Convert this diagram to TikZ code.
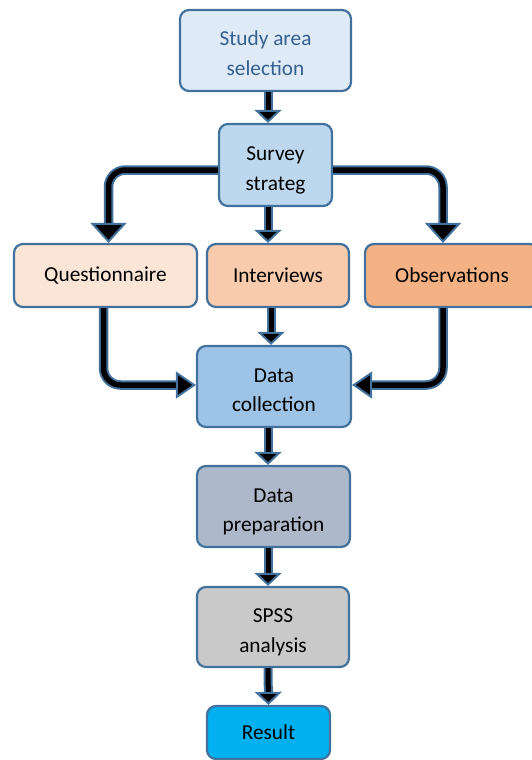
\documentclass[tikz,border=0pt]{standalone}
\usepackage{fontspec}
\setmainfont{Carlito}
\usepackage{xcolor}
\usepackage{tikz}
\usetikzlibrary{arrows.meta}

\definecolor{bord}{HTML}{41719C}
\definecolor{studyfill}{HTML}{DEEBF7}
\definecolor{studytext}{HTML}{35608F}
\definecolor{surveyfill}{HTML}{BDD7EE}
\definecolor{questfill}{HTML}{FBE5D6}
\definecolor{intfill}{HTML}{F8CBAD}
\definecolor{obsfill}{HTML}{F4B183}
\definecolor{collfill}{HTML}{9DC3E6}
\definecolor{prepfill}{HTML}{ADB9CA}
\definecolor{spssfill}{HTML}{C9C9C9}
\definecolor{resfill}{HTML}{00B0F0}

\tikzset{
	box/.style={draw=bord, line width=2.2pt, rounded corners=9pt, align=center,
		inner sep=0pt, font=\fontsize{21.3}{29.5}\selectfont},
	twoline/.style={text height=50pt, text depth=0pt},
	smallarr/.style={black, line width=5pt,
		-{Triangle[width=27pt,length=13pt,line width=2pt,color=bord,fill=black]},
		preaction={draw=bord, line width=9pt, shorten >=10pt, arrows=-}},
	bigarr/.style={black, line width=5.5pt,
		-{Triangle[width=#1,length=20pt,line width=2pt,color=bord,fill=black]},
		preaction={draw=bord, line width=9.5pt, shorten >=15pt, arrows=-}}
}

\begin{document}
\begin{tikzpicture}[x=1pt,y=-1pt]
	\useasboundingbox (0,0) rectangle (532,760);
	\node[box, twoline, fill=studyfill, text=studytext, minimum width=171pt, minimum height=81pt] at (265.5,50.5) (study) {Study area\\selection};
	\node[box, twoline, fill=surveyfill, minimum width=113pt, minimum height=82pt] at (275.5,165) (survey) {Survey\\strateg};
	\node[box, fill=questfill, minimum width=183pt, minimum height=63pt] at (105.5,275.5) (quest) {Questionnaire};
	\node[box, fill=intfill, minimum width=142pt, minimum height=63pt] at (278,275.5) (interv) {Interviews};
	\node[box, fill=obsfill, minimum width=174pt, minimum height=63pt] at (452,275.5) (obs) {Observations};
	\node[box, twoline, fill=collfill, minimum width=154pt, minimum height=81pt] at (274,386.5) (coll) {Data\\collection};
	\node[box, twoline, fill=prepfill, minimum width=153pt, minimum height=81pt] at (273.5,506.5) (prep) {Data\\preparation};
	\node[box, twoline, fill=spssfill, minimum width=152pt, minimum height=80pt] at (273,627) (spss) {SPSS\\analysis};
	\node[box, fill=resfill, minimum width=123pt, minimum height=53pt] at (268.5,732.5) (result) {Result};
	% straight arrows
	\draw [smallarr] ([xshift=2.5pt]study.south) -- ([xshift=-7.5pt]survey.north);
	\draw [smallarr] ([xshift=-7.5pt]survey.south) -- ([xshift=-10pt]interv.north);
	\draw [smallarr] ([xshift=-7pt]interv.south) -- ([xshift=-3pt]coll.north);
	\draw [smallarr] ([xshift=-6pt]coll.south) -- ([xshift=-5.5pt]prep.north);
	\draw [smallarr] ([xshift=-5.5pt]prep.south) -- ([xshift=-5pt]spss.north);
	\draw [smallarr] ([xshift=-5pt]spss.south) -- (result.north);
	% branches
	\draw [bigarr=36pt] ([yshift=-5pt]survey.west) [rounded corners=17pt] -| ([xshift=3pt]quest.north) [sharp corners];
	\draw [bigarr=36pt] ([yshift=-5pt]survey.east) [rounded corners=17pt] -| ([xshift=-9pt]obs.north) [sharp corners];
	\draw [bigarr=27pt] ([xshift=-2pt]quest.south) [rounded corners=17pt] |- ([yshift=1.5pt]coll.west) [sharp corners];
	\draw [bigarr=27pt] ([xshift=-9pt]obs.south) [rounded corners=17pt] |- ([yshift=1.5pt]coll.east) [sharp corners];
\end{tikzpicture}
\end{document}
